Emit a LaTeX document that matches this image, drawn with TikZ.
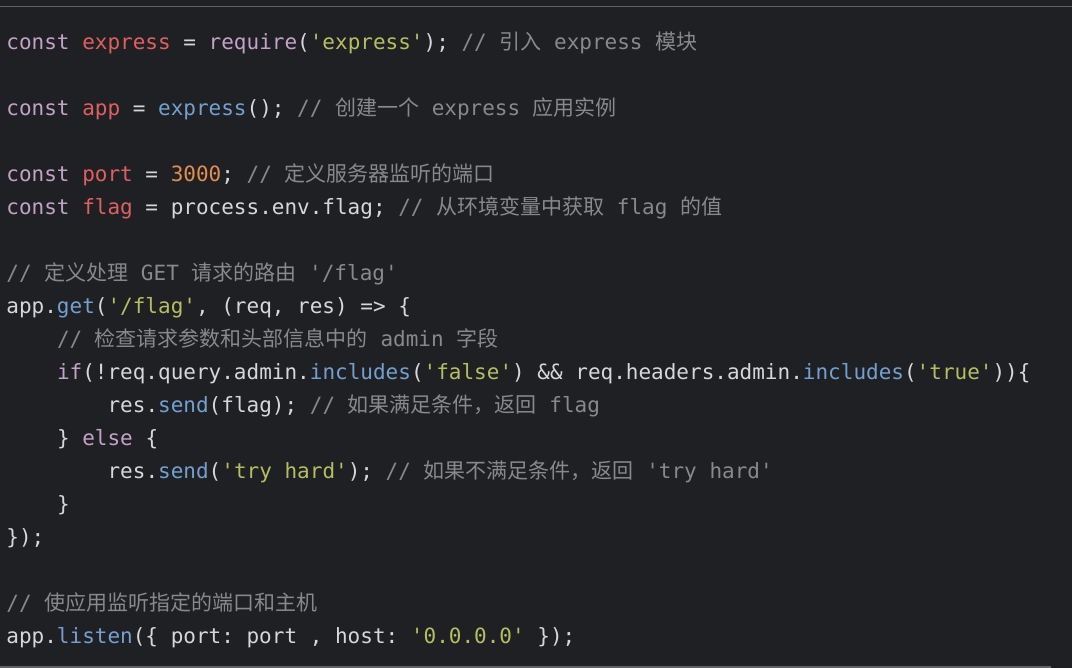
\documentclass[tikz,border=0pt]{standalone}
\usepackage{fontspec}
\newfontfamily\codefont{DejaVu Sans Mono}
\newfontfamily\cjk{Noto Sans CJK SC}
\definecolor{bgcol}{RGB}{31,32,35}
\definecolor{rulecol}{RGB}{96,97,100}
\definecolor{txtcol}{RGB}{214,215,218}
\definecolor{kwcol}{RGB}{196,162,200}
\definecolor{varcol}{RGB}{224,96,98}
\definecolor{strcol}{RGB}{183,190,98}
\definecolor{funcol}{RGB}{116,160,208}
\definecolor{numcol}{RGB}{226,142,80}
\definecolor{comcol}{RGB}{136,137,140}
\newcommand\ckw[1]{\textcolor{kwcol}{#1}}
\newcommand\cvar[1]{\textcolor{varcol}{#1}}
\newcommand\cstr[1]{\textcolor{strcol}{#1}}
\newcommand\cfun[1]{\textcolor{funcol}{#1}}
\newcommand\cnum[1]{\textcolor{numcol}{#1}}
\newcommand\ccom[1]{\textcolor{comcol}{#1}}

\begin{document}
\begin{tikzpicture}[x=0.5pt,y=-0.5pt,
    codeline/.style={anchor=base west,inner sep=0pt,text=txtcol,
      font=\codefont\fontsize{10.5}{12}\selectfont\frenchspacing}]
    \useasboundingbox (0,0) rectangle (1072,668);
    \fill[bgcol] (0,0) rectangle (1072,668);
    \draw[rulecol,line width=0.8pt] (0,6.5) -- (1072,6.5);
    \fill[rulecol] (0,665.5) rectangle (1051,668);
    % top-level lines
    \node[codeline] (require) at (6,50) {\ckw{const} \cvar{express} = \ckw{require}(\cstr{'express'}); \ccom{// {\cjk 引入} express {\cjk 模块}}};
    \node[codeline] (app) at (6,115.9) {\ckw{const} \cvar{app} = \cfun{express}(); \ccom{// {\cjk 创建一个} express {\cjk 应用实例}}};
    \node[codeline] (port) at (6,181.8) {\ckw{const} \cvar{port} = \cnum{3000}; \ccom{// {\cjk 定义服务器监听的端口}}};
    \node[codeline] (flag) at (6,214.7) {\ckw{const} \cvar{flag} = process.env.flag; \ccom{// {\cjk 从环境变量中获取} flag {\cjk 的值}}};
    \node[codeline] (routecom) at (6,280.6) {\ccom{// {\cjk 定义处理} GET {\cjk 请求的路由} '/flag'}};
    \node[codeline] (get) at (6,313.5) {app.\cfun{get}(\cstr{'/flag'}, (req, res) => \{};
    % route body
    \node[codeline] (checkcom) at (56.6,346.5) {\ccom{// {\cjk 检查请求参数和头部信息中的} admin {\cjk 字段}}};
    \node[codeline] (if) at (56.6,379.4) {\ckw{if}(!req.query.admin.\cfun{includes}(\cstr{'false'}) \&\& req.headers.admin.\cfun{includes}(\cstr{'true'}))\{};
    \node[codeline] (sendflag) at (107.2,412.4) {res.\cfun{send}(flag); \ccom{// {\cjk 如果满足条件，返回} flag}};
    \node[codeline] (else) at (56.6,445.3) {\} \ckw{else} \{};
    \node[codeline] (sendtry) at (107.2,478.3) {res.\cfun{send}(\cstr{'try hard'}); \ccom{// {\cjk 如果不满足条件，返回} 'try hard'}};
    \node[codeline] (endif) at (56.6,511.2) {\}};
    \node[codeline] (endget) at (6,544.1) {\});};
    % listen
    \node[codeline] (listencom) at (6,610) {\ccom{// {\cjk 使应用监听指定的端口和主机}}};
    \node[codeline] (listen) at (6,643) {app.\cfun{listen}(\{ port: port , host: \cstr{'0.0.0.0'} \});};
\end{tikzpicture}
\end{document}
